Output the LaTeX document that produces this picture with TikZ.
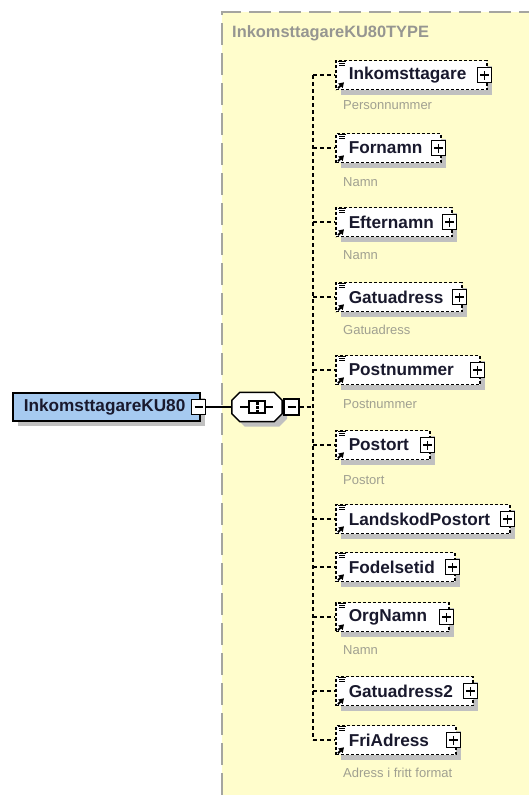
\documentclass[tikz,border=0pt]{standalone}
\usepackage{fontspec}
\setmainfont{Liberation Sans}
\usetikzlibrary{shadows,arrows.meta}
\definecolor{bgyellow}{RGB}{255,253,204}
\definecolor{bordergray}{RGB}{165,165,160}
\definecolor{shadowgray}{RGB}{192,192,192}
\definecolor{labelgray}{RGB}{160,160,145}
\definecolor{titlegray}{RGB}{150,150,145}
\definecolor{rootblue}{RGB}{166,202,240}
\definecolor{textdark}{RGB}{25,25,45}
\tikzset{
  boxshadow/.style={general shadow={fill=shadowgray, shadow xshift=5pt, shadow yshift=-5pt}},
  elem/.style={draw=black, line width=1.5pt, dash pattern=on 3pt off 2pt, fill=white,
     anchor=west, minimum height=29pt, inner xsep=13pt, inner ysep=0pt, align=left,
     font=\fontsize{17.2}{20}\selectfont\bfseries, text=textdark, boxshadow},
  rootbox/.style={draw=black, line width=1.6pt, fill=rootblue, anchor=west, minimum height=28pt,
     inner xsep=11pt, inner ysep=0pt, align=left,
     font=\fontsize{17.2}{20}\selectfont\bfseries, text=textdark, boxshadow},
  pmbox/.style={draw=black, line width=1.4pt, solid, fill=white, minimum width=14pt, minimum height=15pt, inner sep=0pt},
  conn/.style={draw=black, line width=1.5pt, dash pattern=on 4pt off 3pt},
  solidconn/.style={draw=black, line width=1.5pt},
  typelabel/.style={anchor=west, inner sep=0pt, font=\fontsize{13}{15}\selectfont, text=labelgray},
  sign/.style={line width=1.4pt, black},
}
\begin{document}
\begin{tikzpicture}[x=1pt, y=-1pt]
\useasboundingbox (0,0) rectangle (529,795);
\fill[white] (0,0) rectangle (529,795);
% type area
\fill[bgyellow] (222,12) rectangle (529,795);
\draw[bordergray, line width=2pt, dash pattern=on 22pt off 8pt] (222,795) -- (222,12) -- (529,12);
\node[anchor=west, inner sep=0pt, font=\fontsize{16.4}{18}\selectfont\bfseries, text=titlegray] (title) at (232,33) {InkomsttagareKU80TYPE};

% root element
\node[rootbox, text width=165pt] (root) at (12,407) {InkomsttagareKU80};
\node[pmbox] (rm) at ([xshift=-2pt]root.east) {};
\draw[sign] ([xshift=-4pt]rm.center) -- ([xshift=4pt]rm.center);

% sequence compositor
\node[minimum width=50pt, minimum height=29pt, inner sep=0pt] (seq) at (257,407) {};
\fill[shadowgray, transform canvas={xshift=5pt, yshift=-5pt}]
  ([xshift=8pt]seq.north west) -- ([xshift=-8pt]seq.north east) -- ([yshift=-8pt]seq.north east)
  -- ([yshift=8pt]seq.south east) -- ([xshift=-8pt]seq.south east) -- ([xshift=8pt]seq.south west)
  -- ([yshift=8pt]seq.south west) -- ([yshift=-8pt]seq.north west) -- cycle;
\draw[line width=1.5pt, fill=white]
  ([xshift=8pt]seq.north west) -- ([xshift=-8pt]seq.north east) -- ([yshift=-8pt]seq.north east)
  -- ([yshift=8pt]seq.south east) -- ([xshift=-8pt]seq.south east) -- ([xshift=8pt]seq.south west)
  -- ([yshift=8pt]seq.south west) -- ([yshift=-8pt]seq.north west) -- cycle;
\draw[line width=1.3pt] ([xshift=-17pt]seq.center) -- ([xshift=16pt]seq.center);
\draw[line width=1.3pt, fill=white] ([shift={(-8,-6)}]seq.center) rectangle ([shift={(8,6)}]seq.center);
\foreach \d in {-4,0,4} {
  \fill ([shift={(-1.5,\d-1.5)}]seq.center) rectangle ([shift={(1.5,\d+1.5)}]seq.center);
}
\node[pmbox, minimum width=15pt, minimum height=16pt] (sm) at (291.5,407) {};
\draw[sign] ([xshift=-4pt]sm.center) -- ([xshift=4pt]sm.center);

\draw[solidconn] (rm.east) -- (rm.east -| seq.west);
\coordinate (spine) at (313,407);
\draw[conn] (sm.east) -- (spine);

% child elements
\foreach \i/\y/\w/\nm in {1/75/125/Inkomsttagare, 2/148/79/Fornamn, 3/222/90/Efternamn,
  4/297/100/Gatuadress, 5/370/118/Postnummer, 6/445/68/Postort, 7/519/148/LandskodPostort,
  8/567/93/Fodelsetid, 9/617/87/OrgNamn, 10/691/111/Gatuadress2, 11/740/94/FriAdress} {
  \node[elem, text width=\w pt] (c\i) at (335,\y) {\nm};
  \node[pmbox] (p\i) at ([xshift=-3pt]c\i.east) {};
  \draw[sign] ([xshift=-4.5pt]p\i.center) -- ([xshift=4.5pt]p\i.center)
              ([yshift=-4.5pt]p\i.center) -- ([yshift=4.5pt]p\i.center);
  \draw[line width=1pt] ([shift={(3,1.5)}]c\i.north west) -- ++(8,0)
     ([shift={(4,3.5)}]c\i.north west) -- ++(6,0)
     ([shift={(4,5.5)}]c\i.north west) -- ++(6,0);
  \draw[line width=2pt, -{Triangle[length=5pt,width=6pt]}] ([shift={(3,-2)}]c\i.south west) -- ++(6,-6);
  \draw[conn] (c\i.west -| spine) -- (c\i.west);
}
\draw[conn] (c1.west -| spine) -- (c11.west -| spine);

% type labels
\node[typelabel] (l1) at (343,105) {Personnummer};
\node[typelabel] (l2) at (343,182) {Namn};
\node[typelabel] (l3) at (343,255) {Namn};
\node[typelabel] (l4) at (343,330) {Gatuadress};
\node[typelabel] (l5) at (343,404) {Postnummer};
\node[typelabel] (l6) at (343,480) {Postort};
\node[typelabel] (l9) at (343,650) {Namn};
\node[typelabel] (l11) at (343,773) {Adress i fritt format};
\end{tikzpicture}
\end{document}
